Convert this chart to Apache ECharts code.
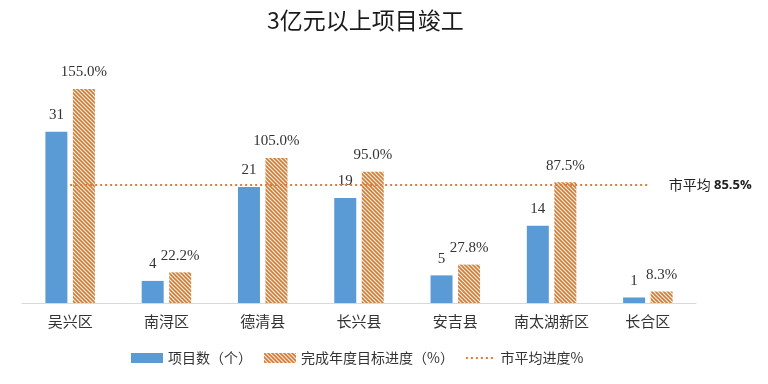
<!DOCTYPE html>
<html><head><meta charset="utf-8">
<script src="https://cdn.jsdelivr.net/npm/echarts@6/dist/echarts.min.js"></script>
<style>html,body{margin:0;padding:0;background:#fff}#c{width:768px;height:384px}</style>
</head><body><div id="c"></div>
<script>
const categories = ['吴兴区','南浔区','德清县','长兴县','安吉县','南太湖新区','长合区'];
const projectCounts = [31, 4, 21, 19, 5, 14, 1];
const progress = [155.0, 22.2, 105.0, 95.0, 27.8, 87.5, 8.3];
const cityAvg = 85.5;
const avgLine = categories.map(() => cityAvg);

function hatch() {
  const s = 4;
  const cv = document.createElement('canvas');
  cv.width = s; cv.height = s;
  const ctx = cv.getContext('2d');
  ctx.fillStyle = '#fdf0e3';
  ctx.fillRect(0, 0, s, s);
  ctx.strokeStyle = '#d27c38';
  ctx.lineWidth = 1.7;
  ctx.beginPath();
  ctx.moveTo(-1, -1); ctx.lineTo(s + 1, s + 1);
  ctx.moveTo(-1, s - 1); ctx.lineTo(1, s + 1);
  ctx.moveTo(s - 1, -1); ctx.lineTo(s + 1, 1);
  ctx.stroke();
  return { image: cv, repeat: 'repeat' };
}
const pat = hatch();
const serif = 'Liberation Serif';
const cjk = 'Noto Sans CJK SC';

let dots = 'path://M0,0L0.05,0L0.05,0.05ZM0,10L0.05,10L0.05,9.95Z';
for (let x = 0; x < 30; x += 5) dots += 'M' + x + ',4h2v2h-2Z';

const chart = echarts.init(document.getElementById('c'));
chart.setOption({
  animation: false,
  backgroundColor: '#fff',
  title: {
    text: '3亿元以上项目竣工', left: 262, top: 4,
    textStyle: { fontSize: 23, fontWeight: 'normal', color: '#1a1a1a', fontFamily: cjk }
  },
  legend: {
    bottom: 14, left: 126, itemWidth: 32, itemHeight: 10, itemGap: 12,
    textStyle: { fontSize: 14, color: '#333', fontFamily: cjk },
    data: [
      { name: '项目数（个）', icon: 'rect' },
      { name: '完成年度目标进度（%）', icon: 'rect' },
      { name: '市平均进度%', icon: dots }
    ]
  },
  grid: { left: 22, right: 72, top: 82, bottom: 81 },
  xAxis: {
    type: 'category', data: categories,
    axisLine: { lineStyle: { color: '#d9d9d9' } },
    axisTick: { show: false },
    axisLabel: { interval: 0, fontSize: 15, color: '#333', fontFamily: cjk, margin: 11 }
  },
  yAxis: [
    { type: 'value', min: 0, max: 40, show: false, splitLine: { show: false } },
    { type: 'value', min: 0, max: 160, show: false, splitLine: { show: false } }
  ],
  series: [
    {
      name: '项目数（个）', type: 'bar', yAxisIndex: 0, data: projectCounts,
      barWidth: 22, barGap: '25%',
      itemStyle: { color: '#5b9bd5' },
      label: { show: true, position: 'top', distance: 9, fontSize: 15, color: '#333', fontFamily: serif }
    },
    {
      name: '完成年度目标进度（%）', type: 'bar', yAxisIndex: 1, data: progress,
      barWidth: 22,
      itemStyle: { color: pat },
      label: { show: true, position: 'top', distance: 9, fontSize: 15, color: '#333', fontFamily: serif,
        formatter: p => p.value.toFixed(1) + '%' }
    },
    {
      name: '市平均进度%', type: 'line', yAxisIndex: 1, data: avgLine,
      symbol: 'none', z: 5,
      lineStyle: { color: '#e07b39', type: [2, 3], width: 2 },
      itemStyle: { color: '#e07b39' },
      endLabel: {
        show: true, distance: 21,
        formatter: () => '{a|市平均 }{b|' + cityAvg + '%}',
        rich: {
          a: { fontSize: 14, color: '#222', fontFamily: cjk },
          b: { fontSize: 13, color: '#222', fontWeight: 'bold', fontFamily: 'Open Sans' }
        }
      }
    }
  ]
});
</script></body></html>
